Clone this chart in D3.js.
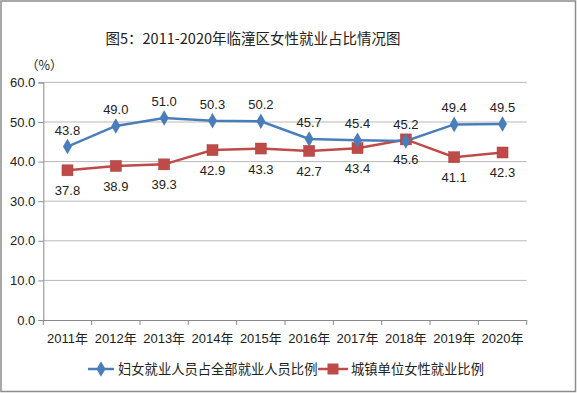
<!DOCTYPE html>
<html><head><meta charset="utf-8">
<script src="https://cdn.jsdelivr.net/npm/d3@7"></script>
<style>body{margin:0;background:#fff}svg{display:block}</style>
</head><body>
<script>
const years = ["2011年","2012年","2013年","2014年","2015年","2016年","2017年","2018年","2019年","2020年"];
const womenShare = [43.8,49.0,51.0,50.3,50.2,45.7,45.4,45.2,49.4,49.5];
const urbanShare = [37.8,38.9,39.3,42.9,43.3,42.7,43.4,45.6,41.1,42.3];
const yTicks = [0,10,20,30,40,50,60];
const seriesNames = ["妇女就业人员占全部就业人员比例","城镇单位女性就业比例"];

const W=577,H=393;
const svg=d3.select("body").append("svg").attr("width",W).attr("height",H);
const font="'Liberation Sans','Noto Sans CJK SC',sans-serif";
svg.append("rect").attr("x",1).attr("y",1).attr("width",W-2.5).attr("height",H-2.5)
  .attr("fill","#fff").attr("stroke","#8c8c8c").attr("stroke-width",1.5);

svg.append("text").attr("x",253).attr("y",44).attr("text-anchor","middle")
  .attr("font-family","'Noto Sans CJK SC',sans-serif").attr("font-size",14.5).attr("fill","#222")
  .text("图5：2011-2020年临潼区女性就业占比情况图");
svg.append("text").attr("x",26).attr("y",70).attr("font-family","'Noto Sans CJK SC',sans-serif")
  .attr("font-size",12.5).attr("fill","#222").text("（%）");

const x=d3.scaleBand().domain(years).range([43.3,526.7]);
const y=d3.scaleLinear().domain([0,60]).range([320,82.4]);

// gridlines
svg.append("g").selectAll("line").data(yTicks.filter(d=>d>0)).join("line")
  .attr("x1",43.3).attr("x2",526.7).attr("y1",d=>y(d)).attr("y2",d=>y(d))
  .attr("stroke","#b8b8b8").attr("stroke-width",1);

const yAxis=svg.append("g").attr("transform","translate(43.3,0)")
  .call(d3.axisLeft(y).tickValues(yTicks).tickFormat(d3.format(".1f")).tickSize(5).tickPadding(3));
const xAxis=svg.append("g").attr("transform","translate(0,320)")
  .call(d3.axisBottom(x).tickSize(0).tickPadding(14));
[yAxis,xAxis].forEach(g=>{
  g.select(".domain").attr("stroke","#8a8a8a");
  g.selectAll(".tick line").attr("stroke","#8a8a8a");
  g.selectAll("text").attr("font-family",font).attr("font-size",13).attr("fill","#222");
});
// x tick marks at band boundaries
const bounds=years.map(d=>x(d)).concat([x.range()[1]]);
svg.append("g").selectAll("line").data(bounds).join("line")
  .attr("x1",d=>d).attr("x2",d=>d).attr("y1",320).attr("y2",325).attr("stroke","#8a8a8a");

const cx=d=>x(d)+x.bandwidth()/2;
const line=d3.line();
const blue="#4a7ebb", red="#be4b48";

function drawSeries(vals,color){
  svg.append("path").datum(years.map((d,i)=>[cx(d),y(vals[i])])).attr("d",line)
    .attr("fill","none").attr("stroke",color).attr("stroke-width",2.5);
}
drawSeries(urbanShare,red);
drawSeries(womenShare,blue);
// red squares
svg.append("g").selectAll("rect").data(years).join("rect")
  .attr("x",(d,i)=>cx(d)-5.5).attr("y",(d,i)=>y(urbanShare[i])-5.5).attr("width",11).attr("height",11)
  .attr("fill",red).attr("stroke","#a8403d").attr("stroke-width",0.5);
// blue diamonds
const diamond=d3.symbol().type(d3.symbolDiamond).size(70);
svg.append("g").selectAll("path").data(years).join("path")
  .attr("transform",(d,i)=>`translate(${cx(d)},${y(womenShare[i])})`).attr("d",diamond).attr("fill",blue);

// labels
svg.append("g").selectAll("text").data(years).join("text")
  .attr("x",d=>cx(d)).attr("y",(d,i)=>y(womenShare[i])-12).attr("text-anchor","middle")
  .attr("font-family",font).attr("font-size",13).attr("fill","#222")
  .text((d,i)=>womenShare[i].toFixed(1));
svg.append("g").selectAll("text").data(years).join("text")
  .attr("x",d=>cx(d)).attr("y",(d,i)=>y(urbanShare[i])+25).attr("text-anchor","middle")
  .attr("font-family",font).attr("font-size",13).attr("fill","#222")
  .text((d,i)=>urbanShare[i].toFixed(1));

// legend
const lg=svg.append("g").attr("font-family","'Noto Sans CJK SC',sans-serif").attr("font-size",13.3).attr("fill","#222");
lg.append("line").attr("x1",88).attr("x2",114).attr("y1",369).attr("y2",369).attr("stroke",blue).attr("stroke-width",2.5);
lg.append("path").attr("transform","translate(101,369)").attr("d",diamond).attr("fill",blue);
lg.append("text").attr("x",118).attr("y",374).text(seriesNames[0]);
lg.append("line").attr("x1",318).attr("x2",348).attr("y1",369).attr("y2",369).attr("stroke",red).attr("stroke-width",2.5);
lg.append("rect").attr("x",327.5).attr("y",363.5).attr("width",11).attr("height",11).attr("fill",red);
lg.append("text").attr("x",351).attr("y",374).text(seriesNames[1]);
</script>
</body></html>
